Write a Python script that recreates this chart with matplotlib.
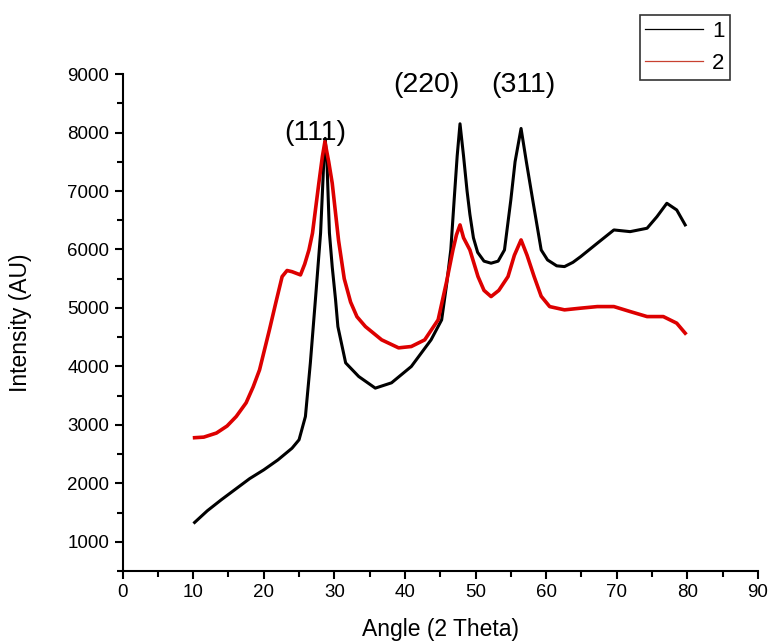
"""
XRD pattern, two samples
"""
import matplotlib
matplotlib.use('Agg')
import matplotlib.pyplot as plt
from matplotlib.ticker import MultipleLocator

plt.rcParams['font.family'] = ['Liberation Sans', 'DejaVu Sans']

# sample 1 (black)
x1 = [10.2, 12, 14, 16, 18, 20, 22, 24, 25, 25.9, 26.6, 27.35, 28.05, 28.5, 28.7,
      28.95, 29.3, 29.7, 30.17, 30.5, 31.6, 33.45, 35.8, 38.1, 40.9, 43.7, 45.2,
      45.9, 46.5, 47.0, 47.4, 47.8, 48.3, 48.8, 49.2, 49.7, 50.3, 51.2, 52.2, 53.2,
      54.1, 55.0, 55.6, 56.45, 57.2, 58.1, 59.3, 60.2, 61.5, 62.6, 63.8, 64.9,
      67.25, 69.6, 71.9, 74.3, 75.7, 77.1, 78.5, 79.7]
y1 = [1330, 1530, 1720, 1900, 2080, 2230, 2400, 2600, 2745, 3143, 4060, 5194, 6283,
      7500, 7900, 7500, 6283, 5700, 5140, 4681, 4060, 3827, 3628, 3719, 3998, 4454,
      4796, 5400, 6000, 6900, 7600, 8150, 7600, 7000, 6600, 6200, 5950, 5800, 5765,
      5800, 5992, 6847, 7500, 8070, 7500, 6847, 5992, 5821, 5720, 5707, 5780, 5878,
      6107, 6334, 6305, 6363, 6561, 6790, 6676, 6420]

# sample 2 (red)
x2 = [10.2, 11.5, 13.3, 14.8, 16.1, 17.5, 18.5, 19.4, 20.8, 21.7, 22.6, 23.3, 24,
      25.2, 25.8, 26.4, 26.9, 27.8, 28.3, 28.66, 29.2, 29.7, 30.6, 31.4, 32.3, 33.2,
      34.4, 36.7, 39.1, 40.9, 42.8, 44.7, 45.9, 46.8, 47.3, 47.8, 48.3, 49.2, 50.35,
      51.2, 52.2, 53.3, 54.6, 55.5, 56.45, 57.3, 58.3, 59.3, 60.5, 62.6, 64.9, 67.25,
      69.6, 71.9, 74.3, 76.6, 78.5, 79.7]
y2 = [2780, 2790, 2860, 2980, 3143, 3377, 3650, 3940, 4625, 5086, 5536, 5640, 5620,
      5565, 5750, 5992, 6278, 7132, 7587, 7843, 7500, 7132, 6150, 5500, 5100, 4850,
      4681, 4454, 4317, 4340, 4454, 4796, 5450, 5992, 6250, 6420, 6200, 5992, 5536,
      5300, 5194, 5300, 5536, 5900, 6163, 5900, 5536, 5200, 5023, 4967, 4996, 5023,
      5023, 4938, 4852, 4852, 4739, 4568]

# peak labels
peaks = ['(111)', '(220)', '(311)']
peak_x = [27.3, 43.0, 56.8]
peak_y = [7990, 8810, 8810]

fig = plt.figure(figsize=(7.71, 6.42), dpi=100)
ax = fig.add_axes([0.159, 0.1106, 0.824, 0.774])

l1, = ax.plot(x1, y1, color='black', lw=2.2, label='1')
l2, = ax.plot(x2, y2, color='#dd0000', lw=2.6, label='2')

for t, px, py in zip(peaks, peak_x, peak_y):
    ax.text(px, py, t, fontsize=20.5, ha='center', va='center')

ax.set_xlim(0, 90)
ax.set_ylim(500, 9000)
ax.xaxis.set_major_locator(MultipleLocator(10))
ax.xaxis.set_minor_locator(MultipleLocator(5))
ax.yaxis.set_major_locator(MultipleLocator(1000))
ax.yaxis.set_minor_locator(MultipleLocator(500))
ax.set_yticks(range(1000, 9001, 1000))

for s in ['top', 'right']:
    ax.spines[s].set_visible(False)
for s in ['left', 'bottom']:
    ax.spines[s].set_linewidth(1.5)
ax.tick_params(which='major', direction='out', length=6, width=1.5, labelsize=13.5)
ax.tick_params(which='minor', direction='out', length=4, width=1.5)

ax.set_xlabel('Angle (2 Theta)', fontsize=16.5)
ax.set_ylabel('Intensity (AU)', fontsize=16.5)
ax.xaxis.set_label_coords(0.5, -0.095)
ax.yaxis.set_label_coords(-0.142, 0.5)

# legend lines drawn thin like the original
h1 = plt.Line2D([], [], color='black', lw=0.9)
h2 = plt.Line2D([], [], color='#c84030', lw=0.9)
leg = fig.legend([h1, h2], ['1', '2'], loc='upper left',
                 bbox_to_anchor=(0.830, 0.976), fontsize=16, frameon=True,
                 fancybox=False, edgecolor='black', handlelength=2.6,
                 borderpad=0.25, labelspacing=0.5, handletextpad=0.4,
                 borderaxespad=0)
leg.get_frame().set_linewidth(1.2)

plt.savefig('out.png', dpi=100)
